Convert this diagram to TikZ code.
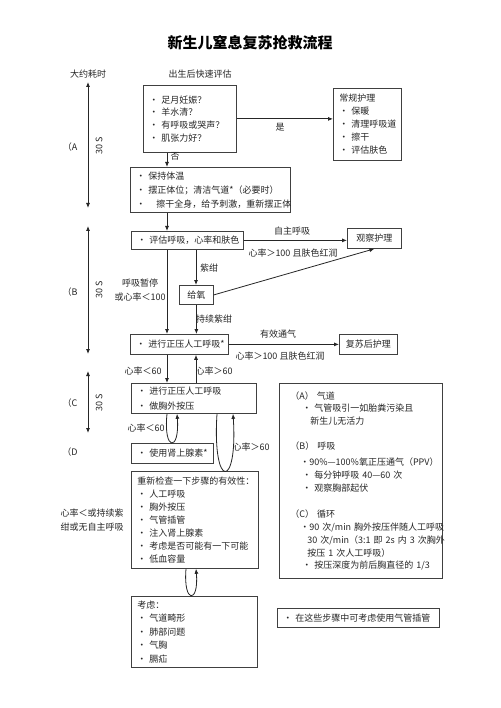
\documentclass[tikz,border=0pt]{standalone}
\usepackage{fontspec}
\setmainfont{Noto Sans CJK SC}
\usetikzlibrary{arrows.meta}
\begin{document}
\begin{tikzpicture}[x=1pt,y=-1pt,
  box/.style={draw=black!75, line width=0.8pt, anchor=north west, inner xsep=6pt, inner ysep=0pt, align=left, font=\fontsize{9}{12.7}\selectfont, text=black!85},
  cbox/.style={draw=black!75, line width=0.8pt, anchor=north west, inner sep=0pt, align=center, font=\fontsize{9}{11}\selectfont, text=black!85},
  lbl/.style={font=\fontsize{9}{14}\selectfont, text=black!85, inner sep=0pt, align=center},
  arr/.style={-{Latex[length=5pt,width=4pt]}, line width=0.8pt, draw=black!85},
  tarr/.style={{Latex[length=5pt,width=4pt]}-{Latex[length=5pt,width=4pt]}, line width=0.8pt, draw=black!85}
]
\useasboundingbox (0,0) rectangle (500,708);
\fill[white] (0,0) rectangle (500,708);

% guide coordinates
\coordinate (xa) at (167,0);
\coordinate (xb) at (196,0);
\coordinate (xd) at (177,0);
\coordinate (xe) at (217,0);
\coordinate (xf) at (233,0);
\coordinate (xg) at (186,0);
\coordinate (xh) at (196,0);

\node[font=\fontsize{15}{15}\selectfont\bfseries, text=black] (title) at (250,43) {新生儿窒息复苏抢救流程};

\node[lbl] (lt) at (88,74) {大约耗时};
\node[lbl] (le) at (200,74) {出生后快速评估};

% boxes
\node[box, minimum width=93pt, minimum height=67pt, text width=81pt] (q) at (143,85)
 {•~足月妊娠？\\•~羊水清？\\•~有呼吸或哭声？\\•~肌张力好？};
\node[box, minimum width=68pt, minimum height=72pt, text width=56pt, font=\fontsize{9}{13}\selectfont] (rout) at (333,88)
 {常规护理\\•~保暖\\•~清理呼吸道\\•~擦干\\•~评估肤色};
\node[box, minimum width=160pt, minimum height=45pt, text width=148pt, font=\fontsize{9}{14}\selectfont] (s2) at (130,167)
 {•~保持体温\\•~摆正体位；清洁气道*（必要时）\\•~\hspace{8pt}擦干全身，给予刺激，重新摆正体};
\node[box, minimum width=112pt, minimum height=18pt, text width=100pt] (s3) at (131,231)
 {•~评估呼吸，心率和肤色};
\node[cbox, minimum width=54pt, minimum height=20pt] (obs) at (347,228) {观察护理};
\node[cbox, minimum width=34pt, minimum height=19pt] (oxy) at (179,285) {给氧};
\node[box, minimum width=98pt, minimum height=20pt, text width=86pt] (ppv) at (130,334)
 {•~进行正压人工呼吸*};
\node[cbox, minimum width=58pt, minimum height=20pt] (post) at (339,334) {复苏后护理};
\node[box, minimum width=125pt, minimum height=30pt, text width=113pt, font=\fontsize{9}{15}\selectfont] (cc) at (131,383)
 {•~进行正压人工呼吸\\•~做胸外按压};
\node[box, minimum width=82pt, minimum height=20pt, text width=70pt] (epi) at (131,443)
 {•~使用肾上腺素*};
\node[box, minimum width=127pt, minimum height=97pt, text width=115pt, font=\fontsize{9}{13}\selectfont] (re) at (131,471)
 {重新检查一下步骤的有效性：\\•~人工呼吸\\•~胸外按压\\•~气管插管\\•~注入肾上腺素\\•~考虑是否可能有一下可能\\•~低血容量};
\node[box, minimum width=126pt, minimum height=71pt, text width=114pt, font=\fontsize{9}{13.5}\selectfont] (con) at (131,596)
 {考虑：\\•~气道畸形\\•~肺部问题\\•~气胸\\•~膈疝};
\node[box, minimum width=162pt, minimum height=19pt, text width=150pt] (note) at (277,608)
 {•~在这些步骤中可考虑使用气管插管};
\node[box, minimum width=163pt, minimum height=195pt, text width=151pt] (abc) at (279,383)
 {\hspace*{5pt}\mbox{（A）\ 气道}\\
  \hspace*{17pt}\mbox{•~气管吸引一如胎粪污染且}\\
  \hspace*{25pt}\mbox{新生儿无活力}\\[12pt]
  \hspace*{5pt}\mbox{（B）\ 呼吸}\\[4pt]
  \hspace*{15pt}\mbox{•90\%—100\%氧正压通气（PPV）}\\
  \hspace*{17pt}\mbox{•~每分钟呼吸~40—60~次}\\
  \hspace*{17pt}\mbox{•~观察胸部起伏}\\[13pt]
  \hspace*{5pt}\mbox{（C）\ 循环}\\[1pt]
  \hspace*{15pt}\mbox{•90~次/min~胸外按压伴随人工呼吸}\\
  \hspace*{22pt}\mbox{30~次/min（3:1~即~2s~内~3~次胸外}\\
  \hspace*{22pt}\mbox{按压~1~次人工呼吸）}\\
  \hspace*{17pt}\mbox{•~按压深度为前后胸直径的~1/3}};

% labels
\node[lbl] (lyes) at (280,127) {是};
\node[lbl] (lno) at (175,156) {否};
\node[lbl] (lsb) at (292,231) {自主呼吸};
\node[lbl] (lhr1) at (293,253) {心率＞100 且肤色红润};
\node[lbl] (lcy) at (209,268) {紫绀};
\node[lbl] (lap) at (140,290) {呼吸暂停\\或心率＜100};
\node[lbl] (lpc) at (214,319) {持续紫绀};
\node[lbl] (lev) at (278,334) {有效通气};
\node[lbl] (lhr2) at (280,356) {心率＞100 且肤色红润};
\node[lbl] (llta) at (143,371) {心率＜60};
\node[lbl] (lgta) at (214,371) {心率＞60};
\node[lbl] (lltb) at (146,428) {心率＜60};
\node[lbl] (lgtb) at (251,447) {心率＞60};
\node[lbl] (lleft) at (92,520) {心率＜或持续紫\\绀或无自主呼吸};

\node[lbl] (la) at (70,147) {（A};
\node[lbl] (lb) at (70,292) {（B};
\node[lbl] (lc) at (70,403) {（C};
\node[lbl] (ld) at (70,452) {（D};
\node[lbl, rotate=90] (sa) at (99,146) {30 S};
\node[lbl, rotate=90] (sb) at (99,290) {30 S};
\node[lbl, rotate=90] (sc) at (99,403) {30 S};

% time arrows
\coordinate (ta1) at (88,82);  \coordinate (ta2) at (88,208);
\coordinate (tb1) at (88,226); \coordinate (tb2) at (88,354);
\coordinate (tc1) at (88,371); \coordinate (tc2) at (88,433);
\draw[tarr] (ta1) -- (ta2);
\draw[tarr] (tb1) -- (tb2);
\draw[tarr] (tc1) -- (tc2);

% connectors
\draw[arr] (q.east) -- (q.east -| rout.west);
\draw[arr] (q.south -| xa) -- (s2.north -| xa);
\draw[arr] (s2.south -| xa) -- (s3.north -| xa);
\draw[arr] (s3.east) -- (s3.east -| obs.west);
\draw[arr] (s3.south -| xa) -- (ppv.north -| xa);
\draw[arr] (s3.south -| xb) -- (oxy.north -| xb);
\draw[arr] (oxy.east) -- (obs.south);
\draw[arr] (oxy.south) -- (oxy.south |- ppv.north);
\draw[arr] (ppv.east) -- (ppv.east -| post.west);
\draw[arr] (ppv.south -| xa) -- (cc.north -| xa);
\draw[arr] (cc.north -| xb) -- (ppv.south -| xb);
\draw[arr] (cc.south -| xa) .. controls (163,452) and (180,452) .. (cc.south -| xd);
\draw[arr] (cc.south -| xe) .. controls (212,490) and (238,490) .. (cc.south -| xf);
\draw[arr] (re.south -| xg) .. controls (183,604) and (199,604) .. (re.south -| xh);
\end{tikzpicture}
\end{document}
